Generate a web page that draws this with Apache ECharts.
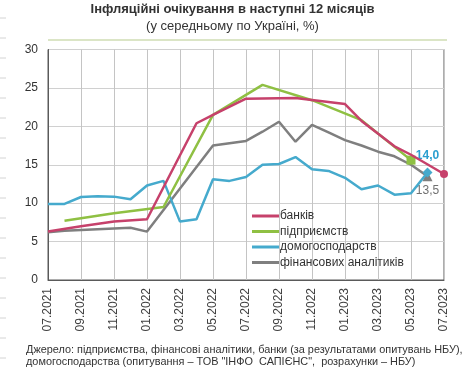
<!DOCTYPE html>
<html><head><meta charset="utf-8">
<script src="https://cdn.jsdelivr.net/npm/echarts@6/dist/echarts.min.js"></script>
<style>html,body{margin:0;padding:0;background:#fff}#c{width:465px;height:371px}</style>
</head><body><div id="c"></div>
<script>
const months = ['07.2021','08.2021','09.2021','10.2021','11.2021','12.2021','01.2022','02.2022','03.2022','04.2022','05.2022','06.2022','07.2022','08.2022','09.2022','10.2022','11.2022','12.2022','01.2023','02.2023','03.2023','04.2023','05.2023','06.2023','07.2023'];
const banks = [6.3,null,7.0,null,7.6,null,7.9,null,null,20.4,21.5,null,23.6,null,null,23.7,null,null,22.9,20.7,null,17.4,16.3,null,13.8];
const enterprises = [null,7.7,null,null,8.7,null,null,9.5,null,null,21.5,null,null,25.4,null,null,23.4,null,null,20.8,null,null,15.6,null,null];
const households = [9.9,9.9,10.8,10.9,10.85,10.5,12.3,12.9,7.6,7.9,13.1,12.9,13.4,15.0,15.1,16.0,14.4,14.2,13.3,11.8,12.3,11.1,11.3,14.0,null];
const analysts = [6.2,6.4,6.5,6.6,6.7,6.8,6.3,null,null,null,17.5,17.8,18.1,19.3,20.6,18.0,20.2,19.2,18.2,17.5,16.7,16.1,15.0,13.5,null];
const seriesNames = ['банків','підприємств','домогосподарств','фінансових аналітиків'];
const yTicks = [0,5,10,15,20,25,30];
const titleText = 'Інфляційні очікування в наступні 12 місяців';
const subtitleText = '(у середньому по Україні, %)';
const sourceText = 'Джерело: підприємства, фінансові аналітики, банки (за результатами опитувань НБУ),\nдомогосподарства (опитування – ТОВ "ІНФО  САПІЄНС",  розрахунки – НБУ)';

const FONT = '"Liberation Sans", Arial, sans-serif';
const colors = ['#c6416b','#8fc043','#45aacd','#7f7f7f'];

function lastIdx(arr){ for(let i=arr.length-1;i>=0;i--) if(arr[i]!=null) return i; return -1; }
function withMarker(arr, symbol, size, label){
  const li = lastIdx(arr);
  return arr.map((v,i)=>{
    if(i!==li) return v;
    const o = {value:v, symbol:symbol, symbolSize:size};
    if(label) o.label = label;
    return o;
  });
}
const fmt = p => String(p.value.toFixed(1)).replace('.',',');

const graphics = [];
for(let y=18;y<=358;y+=20){
  graphics.push({type:'line',shape:{x1:0,y1:y,x2:6,y2:y},style:{stroke:'#d4d4d4',lineWidth:1},silent:true});
}
graphics.push({type:'line',shape:{x1:48,y1:40,x2:447,y2:40},style:{stroke:'#dbe5c6',lineWidth:2},silent:true});
graphics.push({type:'text',left:'center',top:3,style:{text:titleText,font:'bold 13px '+FONT,fill:'#333'}});
graphics.push({type:'text',left:'center',top:20,style:{text:subtitleText,font:'13px '+FONT,fill:'#333'}});
graphics.push({type:'text',left:26,top:344,style:{text:sourceText,font:'10.9px '+FONT,fill:'#333',lineHeight:12}});

const chart = echarts.init(document.getElementById('c'),null,{renderer:'canvas'});
const baseLine = (name, data, color, z) => ({
  name, type:'line', data, connectNulls:true, symbol:'none', showSymbol:true, showAllSymbol:true,
  lineStyle:{color, width:2.5}, itemStyle:{color}, z, animation:false
});
chart.setOption({
  animation:false,
  textStyle:{fontFamily:FONT},
  grid:{left:48, top:49.5, width:396, height:230.5, show:true, borderColor:'#5a5a5a', borderWidth:1},
  legend:{
    data:seriesNames, orient:'vertical', left:247, top:205, icon:'rect', itemWidth:27, itemHeight:3, itemGap:3.5,
    textStyle:{fontSize:12, color:'#333', fontFamily:FONT, padding:[0,0,0,-4]}
  },
  xAxis:{
    type:'category', data:months, boundaryGap:false,
    axisLine:{lineStyle:{color:'#5a5a5a'}}, axisTick:{show:false},
    axisLabel:{interval:1, rotate:90, fontSize:12, color:'#404040', margin:8, fontFamily:FONT},
    splitLine:{show:true, interval:1, lineStyle:{color:'#c4c4c4'}}
  },
  yAxis:{
    type:'value', min:yTicks[0], max:yTicks[yTicks.length-1], interval:5,
    axisLine:{show:true, lineStyle:{color:'#5a5a5a'}}, axisTick:{show:false},
    axisLabel:{fontSize:12, color:'#333', margin:10, fontFamily:FONT},
    splitLine:{lineStyle:{color:'#d0d0d0'}}
  },
  series:[
    baseLine(seriesNames[0], withMarker(banks,'circle',8), colors[0], 5),
    baseLine(seriesNames[1], withMarker(enterprises,'rect',9), colors[1], 4),
    baseLine(seriesNames[2], withMarker(households,'diamond',10,{show:true, position:'top', distance:6, formatter:fmt, color:'#2a9fd0', fontWeight:'bold', fontSize:12, fontFamily:FONT}), colors[2], 3),
    baseLine(seriesNames[3], withMarker(analysts,'triangle',10,{show:true, position:'bottom', distance:3, formatter:fmt, color:'#707070', fontSize:12, fontFamily:FONT}), colors[3], 2)
  ],
  graphic:graphics
});
</script></body></html>
